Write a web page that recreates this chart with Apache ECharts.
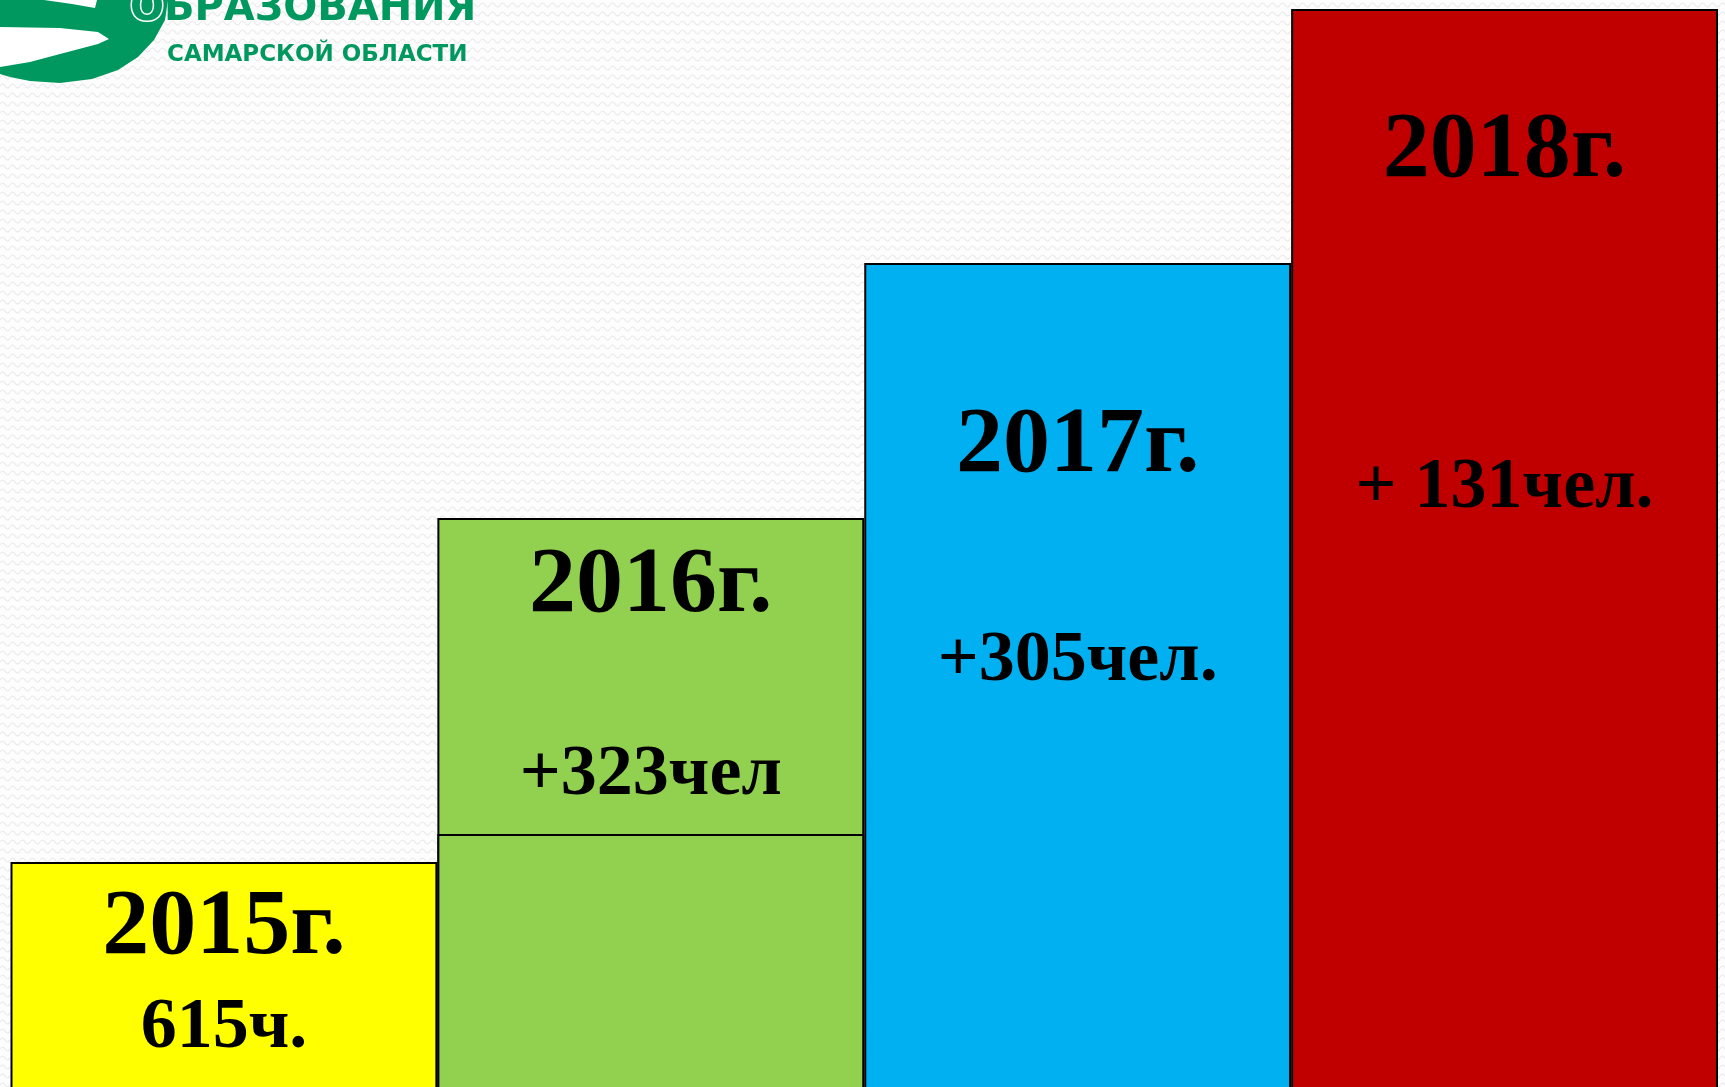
<!DOCTYPE html>
<html>
<head>
<meta charset="utf-8">
<script src="https://cdn.jsdelivr.net/npm/echarts@6/dist/echarts.min.js"></script>
<style>
    html, body { margin: 0; padding: 0; overflow: hidden; }
    /* taller than the window so the steps run off the bottom edge */
    #main { width: 1725px; height: 1107px; }
</style>
</head>
<body>
<div id="main"></div>
<script>
// labels of the four steps
var years = ['2015г.', '2016г.', '2017г.', '2018г.'];
var gains = ['615ч.', '+323чел', '+305чел.', '+ 131чел.'];
// step heights as drawn on the slide (the steps are not to scale)
var barHeights = [245, 589, 844, 1098];
// level of the previous year marked inside the 2016 step
var prevLevel = ['-', 273, '-', '-'];
var colors = ['#FFFF00', '#92D050', '#00B0F0', '#C00000'];

// label layout inside each step
var labelTop = [17, 18.5, 134, 93];
var gainLine = [99, 278, 328, 573];

function bgPattern() {
    var c = document.createElement('canvas');
    c.width = 10;
    c.height = 9;
    var ctx = c.getContext('2d');
    ctx.fillStyle = '#fdfdfd';
    ctx.fillRect(0, 0, 10, 9);
    ctx.strokeStyle = '#eaeaea';
    ctx.lineWidth = 1.2;
    ctx.beginPath();
    ctx.moveTo(0, 5);
    ctx.quadraticCurveTo(2.5, 1, 5, 5);
    ctx.quadraticCurveTo(7.5, 9, 10, 5);
    ctx.stroke();
    return c;
}

var chart = echarts.init(document.getElementById('main'));

var mainData = barHeights.map(function (v, i) {
    return {
        value: v,
        itemStyle: { color: colors[i] },
        label: {
            distance: labelTop[i],
            formatter: '{y|' + years[i] + '}\n{g|' + gains[i] + '}',
            rich: {
                y: { fontSize: 94, lineHeight: 100, fontWeight: 'bold', fontFamily: 'Liberation Serif', color: '#000' },
                g: { fontSize: 72, lineHeight: gainLine[i], fontWeight: 'bold', fontFamily: 'Liberation Serif', color: '#000' }
            }
        }
    };
});

var logoGreen = '#00985F';

chart.setOption({
    animation: false,
    backgroundColor: { image: bgPattern(), repeat: 'repeat' },
    grid: { left: 10.5, right: 7, top: 0, bottom: 0 },
    xAxis: {
        type: 'category',
        data: years,
        show: false
    },
    yAxis: {
        type: 'value',
        min: 0,
        max: 1107,
        show: false
    },
    series: [{
        type: 'bar',
        data: mainData,
        barWidth: '100%',
        barGap: '-100%',
        itemStyle: { borderColor: '#000', borderWidth: 2 },
        label: {
            show: true,
            position: 'insideTop',
            align: 'center',
            textBorderWidth: 0
        }
    }, {
        type: 'bar',
        data: prevLevel,
        barWidth: '100%',
        barGap: '-100%',
        itemStyle: { color: colors[1], borderColor: '#000', borderWidth: 2 }
    }],
    graphic: [{
        type: 'polygon',
        shape: {
            points: [[0, 0], [168, 0], [165, 20], [154, 40], [138, 57], [118, 70], [92, 79], [60, 83], [30, 81], [10, 77], [0, 74]]
        },
        style: { fill: logoGreen }
    }, {
        type: 'polygon',
        shape: {
            points: [[0, 27], [60, 28], [98, 32], [109, 39], [98, 44], [60, 54], [30, 62], [0, 67]]
        },
        style: { fill: '#ffffff' }
    }, {
        type: 'polygon',
        shape: {
            points: [[44, 0], [97, 0], [95, 8], [72, 4]]
        },
        style: { fill: '#ffffff' }
    }, {
        type: 'text',
        style: {
            text: 'ОБРАЗОВАНИЯ',
            x: 130, y: 10,
            textVerticalAlign: 'middle',
            font: 'bold 40px "DejaVu Sans"',
            fill: logoGreen
        }
    }, {
        type: 'text',
        z: 10,
        style: {
            text: 'О',
            x: 130, y: 10,
            textVerticalAlign: 'middle',
            font: 'bold 40px "DejaVu Sans"',
            fill: logoGreen,
            stroke: '#ffffff',
            lineWidth: 3
        }
    }, {
        type: 'text',
        style: {
            text: 'САМАРСКОЙ ОБЛАСТИ',
            x: 167, y: 55,
            textVerticalAlign: 'middle',
            font: 'bold 23px "DejaVu Sans"',
            fill: logoGreen
        }
    }]
});
</script>
</body>
</html>
